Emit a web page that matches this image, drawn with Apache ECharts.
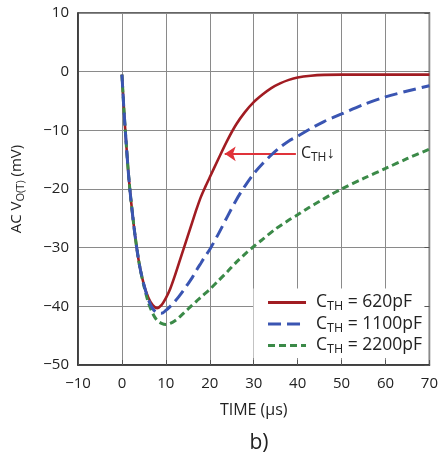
<!DOCTYPE html>
<html>
<head>
<meta charset="utf-8">
<script src="https://cdn.jsdelivr.net/npm/echarts@6/dist/echarts.min.js"></script>
<style>html,body{margin:0;padding:0;background:#fff;}#c{width:441px;height:459px;}</style>
</head>
<body>
<div id="c"></div>
<script>
// time (µs) and AC VO(T) (mV)
var tRed  = [0, 0.5, 1, 1.5, 2, 3, 4, 5, 6, 7, 8, 9, 10, 11, 12, 13, 14, 15, 16, 17, 18, 19, 20, 22, 24, 26, 28, 30, 32, 34, 36, 38, 40, 43, 46, 50, 60, 70];
var vRed  = [-0.5, -7, -12.5, -17.5, -21.5, -28, -33, -36.3, -38.5, -39.8, -40.3, -39.8, -38.6, -37, -34.9, -32.6, -30.3, -28, -25.7, -23.4, -21.3, -19.6, -18, -14.8, -11.7, -9, -6.9, -5.2, -3.9, -2.8, -2, -1.4, -1.0, -0.7, -0.55, -0.5, -0.5, -0.5];
var tBlue = [0, 0.5, 1, 1.5, 2, 3, 4, 5, 6, 7, 8, 9, 10, 11, 12, 13, 14, 15, 16, 17, 18, 19, 20, 22, 24, 26, 28, 30, 32, 34, 36, 38, 40, 43, 46, 50, 55, 60, 65, 70];
var vBlue = [-0.5, -7, -12.5, -17.5, -21.5, -28, -33, -36.3, -38.8, -40.4, -41.1, -41.2, -40.7, -40, -39.2, -38.3, -37.3, -36.2, -35.1, -33.8, -32.6, -31.4, -30.3, -27.6, -24.7, -21.9, -19.5, -17.4, -15.7, -14.2, -12.9, -11.8, -11, -9.7, -8.5, -7.2, -5.6, -4.3, -3.3, -2.4];
var tGreen = [0, 0.5, 1, 1.5, 2, 3, 4, 5, 6, 7, 8, 9, 10, 11, 12, 13, 14, 15, 16, 17, 18, 20, 22, 24, 26, 28, 30, 32, 35, 38, 40, 42.5, 45, 47.5, 50, 55, 60, 65, 70];
var vGreen = [-0.5, -7, -12.5, -17.5, -21.5, -28, -33, -36.5, -39.3, -41.2, -42.4, -42.9, -43.1, -42.9, -42.5, -41.9, -41.2, -40.5, -39.8, -39.1, -38.4, -37.1, -35.6, -34.1, -32.5, -31.1, -29.8, -28.6, -26.8, -25.3, -24.4, -23.2, -22.1, -21, -20, -18.2, -16.5, -14.8, -13.2];
var seriesNames = ['C{s|TH} = 620pF', 'C{s|TH} = 1100pF', 'C{s|TH} = 2200pF'];
var xTicks = [-10, 0, 10, 20, 30, 40, 50, 60, 70];
var yTicks = [-50, -40, -30, -20, -10, 0, 10];
var arrowFrom = [39.6, -14];
var arrowTo = [23.4, -14];

function pairs(t, v) { return t.map(function (x, i) { return [x, v[i]]; }); }
function tickFmt(v) { return v < 0 ? '\u2212' + (-v) : '' + v; }

var FONT = 'Open Sans';
var chart = echarts.init(document.getElementById('c'), null, {renderer: 'canvas'});
var subRich = {
  s: {fontSize: 11, fontFamily: FONT, color: '#222', padding: [7, 0, 0, 0]}
};
chart.setOption({
  animation: false,
  backgroundColor: '#fff',
  textStyle: {fontFamily: FONT},
  title: {
    text: 'b)', left: 254, top: 428, textAlign: 'center',
    textStyle: {fontFamily: FONT, fontSize: 21, fontWeight: 'normal', color: '#222'}
  },
  grid: {left: 78, right: 10, top: 13, bottom: 94, show: true, borderColor: '#333', borderWidth: 1.5, containLabel: false},
  xAxis: [{
    type: 'value', min: xTicks[0], max: xTicks[xTicks.length - 1], interval: 10,
    name: 'TIME (µs)', nameLocation: 'middle', nameGap: 37,
    nameTextStyle: {fontFamily: FONT, fontSize: 16, color: '#222'},
    axisLine: {show: true, onZero: false, lineStyle: {color: '#333', width: 1.5}},
    axisTick: {show: false},
    axisLabel: {fontFamily: FONT, fontSize: 15, color: '#222', margin: 11, formatter: tickFmt},
    splitLine: {show: true, lineStyle: {color: '#8a8a8a', width: 1}}
  }, {
    type: 'value', min: xTicks[0], max: xTicks[xTicks.length - 1], interval: 10, position: 'bottom', z: 10,
    axisLine: {show: false, onZero: false}, axisLabel: {show: false}, splitLine: {show: false},
    axisTick: {show: true, inside: true, length: 5, lineStyle: {color: '#555', width: 1}}
  }],
  yAxis: [{
    type: 'value', min: yTicks[0], max: yTicks[yTicks.length - 1], interval: 10,
    name: 'AC V{s|O(T)} (mV)', nameLocation: 'middle', nameGap: 52, nameRotate: 90,
    nameTextStyle: {fontFamily: FONT, fontSize: 15, color: '#222', rich: subRich},
    axisLine: {show: true, onZero: false, lineStyle: {color: '#333', width: 1.5}},
    axisTick: {show: false},
    axisLabel: {fontFamily: FONT, fontSize: 15, color: '#222', margin: 9, formatter: tickFmt},
    splitLine: {show: true, lineStyle: {color: '#8a8a8a', width: 1}}
  }, {
    type: 'value', min: yTicks[0], max: yTicks[yTicks.length - 1], interval: 10, position: 'right', z: 10,
    axisLine: {show: false, onZero: false}, axisLabel: {show: false}, splitLine: {show: false},
    axisTick: {show: true, inside: true, length: 5, lineStyle: {color: '#555', width: 1}}
  }],
  legend: {
    orient: 'vertical', right: 14, bottom: 101,
    backgroundColor: '#fff', padding: [4, 5, 2, 13],
    itemWidth: 38, itemHeight: 14, itemGap: 1,
    data: [seriesNames[0], seriesNames[1], seriesNames[2]],
    lineStyle: {width: 3},
    itemStyle: {opacity: 0},
    textStyle: {fontFamily: FONT, fontSize: 17.5, color: '#222', padding: [0, 0, 0, 5], lineHeight: 20,
      rich: {s: {fontSize: 12.5, fontFamily: FONT, color: '#222', padding: [8, 0, 0, 0]}}}
  },
  series: [{
    name: seriesNames[0], type: 'line', data: pairs(tRed, vRed), xAxisIndex: 0, yAxisIndex: 0,
    smooth: 0.3, symbol: 'none', z: 3,
    lineStyle: {color: '#a11c22', width: 2.6}, itemStyle: {color: '#a11c22'},
    markLine: {
      silent: true, symbol: ['none', 'arrow'], symbolSize: 11,
      lineStyle: {color: '#e0333a', width: 1.8, type: 'solid'},
      label: {
        show: true, position: 'start', distance: 4, formatter: 'C{s|TH}\u2193',
        fontFamily: FONT, fontSize: 16, color: '#222', backgroundColor: '#fff', padding: [1, 1, 1, 1],
        rich: {s: {fontSize: 12, fontFamily: FONT, color: '#222', padding: [8, 0, 0, 0]}}
      },
      data: [[{coord: arrowFrom}, {coord: arrowTo}]]
    }
  }, {
    name: seriesNames[2], type: 'line', data: pairs(tGreen, vGreen), xAxisIndex: 0, yAxisIndex: 0,
    smooth: 0.3, symbol: 'none', z: 4,
    lineStyle: {color: '#3b8a48', width: 3, type: [7, 4]}, itemStyle: {color: '#3b8a48'}
  }, {
    name: seriesNames[1], type: 'line', data: pairs(tBlue, vBlue), xAxisIndex: 0, yAxisIndex: 0,
    smooth: 0.3, symbol: 'none', z: 5,
    lineStyle: {color: '#3a55b2', width: 3, type: [13, 6]}, itemStyle: {color: '#3a55b2'}
  }]
});
</script>
</body>
</html>
